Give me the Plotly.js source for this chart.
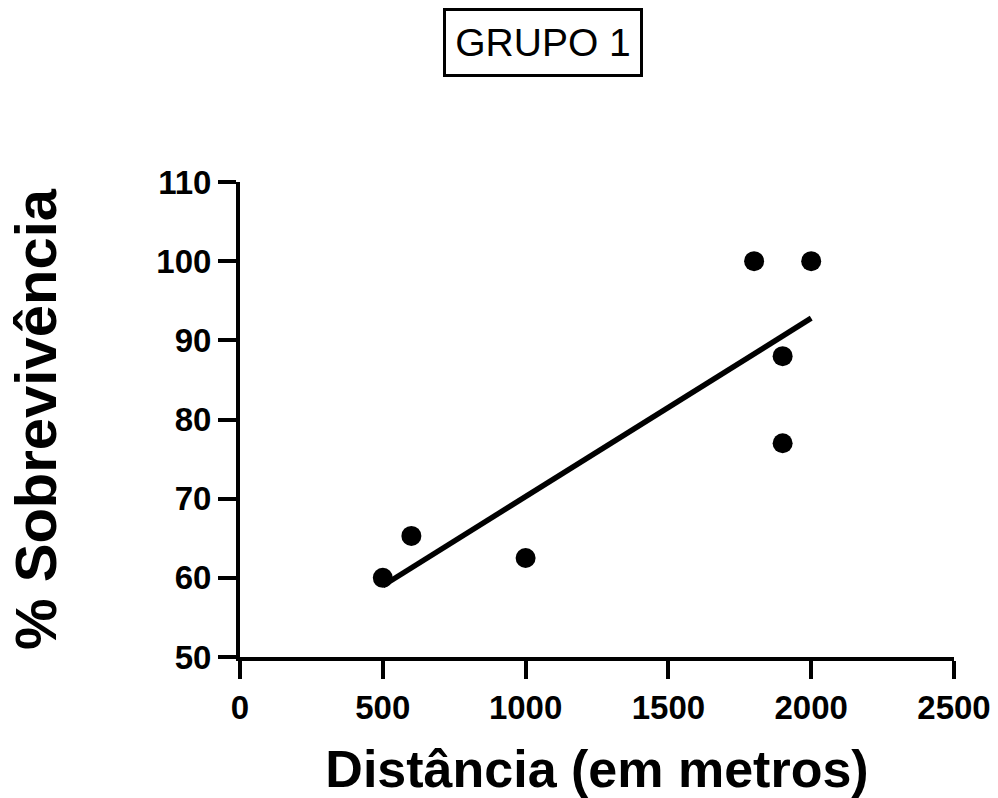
<!DOCTYPE html>
<html>
<head>
<meta charset="utf-8">
<script src="https://cdn.plot.ly/plotly-3.0.1.min.js"></script>
<style>html,body{margin:0;padding:0;background:#fff;}#chart{width:998px;height:798px;}</style>
</head>
<body>
<div id="chart"></div>
<script>
// Data
var distancia = [500, 600, 1000, 1800, 1900, 1900, 2000];
var sobrevivencia = [60, 65.3, 62.5, 100, 88, 77, 100];
// Fitted line endpoints
var fitX = [500, 2000];
var fitY = [59.0, 92.8];
var xTicks = [0, 500, 1000, 1500, 2000, 2500];
var yTicks = [50, 60, 70, 80, 90, 100, 110];

var FONT = 'Liberation Sans, Arial, sans-serif';

var traces = [
  {
    x: distancia, y: sobrevivencia, type: 'scatter', mode: 'markers',
    marker: {color: '#000', size: 20},
    showlegend: false, cliponaxis: false
  },
  {
    x: fitX, y: fitY, type: 'scatter', mode: 'lines',
    line: {color: '#000', width: 5.5},
    showlegend: false
  }
];

var axisCommon = {
  showgrid: false, zeroline: false, showline: true, linecolor: '#000', linewidth: 4,
  ticks: 'outside', ticklen: 18, tickwidth: 4, tickcolor: '#000',
  tickfont: {family: FONT, size: 33, color: '#000', weight: 'bold'},
  mirror: false
};

var layout = {
  width: 998, height: 798,
  paper_bgcolor: '#fff', plot_bgcolor: '#fff',
  margin: {l: 240, r: 44, t: 182, b: 141},
  font: {family: FONT, color: '#000'},
  xaxis: Object.assign({}, axisCommon, {
    range: [0, 2500], tickvals: xTicks, ticktext: xTicks.map(String),
    title: {text: '<b>Distância (em metros)</b>', font: {family: FONT, size: 52, color: '#000'}, standoff: 33}
  }),
  yaxis: Object.assign({}, axisCommon, {
    range: [50, 110], tickvals: yTicks, ticktext: yTicks.map(String),
    title: {text: '<b>% Sobrevivência</b>', font: {family: FONT, size: 58, color: '#000'}, standoff: 82}
  }),
  annotations: [{
    text: 'GRUPO 1', xref: 'paper', yref: 'paper', x: 0.4244, y: 1.2947,
    xanchor: 'center', yanchor: 'middle', showarrow: false,
    font: {family: FONT, size: 39, color: '#000'},
    bordercolor: '#000', borderwidth: 3, borderpad: 0, width: 194, height: 63,
    bgcolor: '#fff'
  }]
};

Plotly.newPlot('chart', traces, layout, {displayModeBar: false, staticPlot: true});
</script>
</body>
</html>
